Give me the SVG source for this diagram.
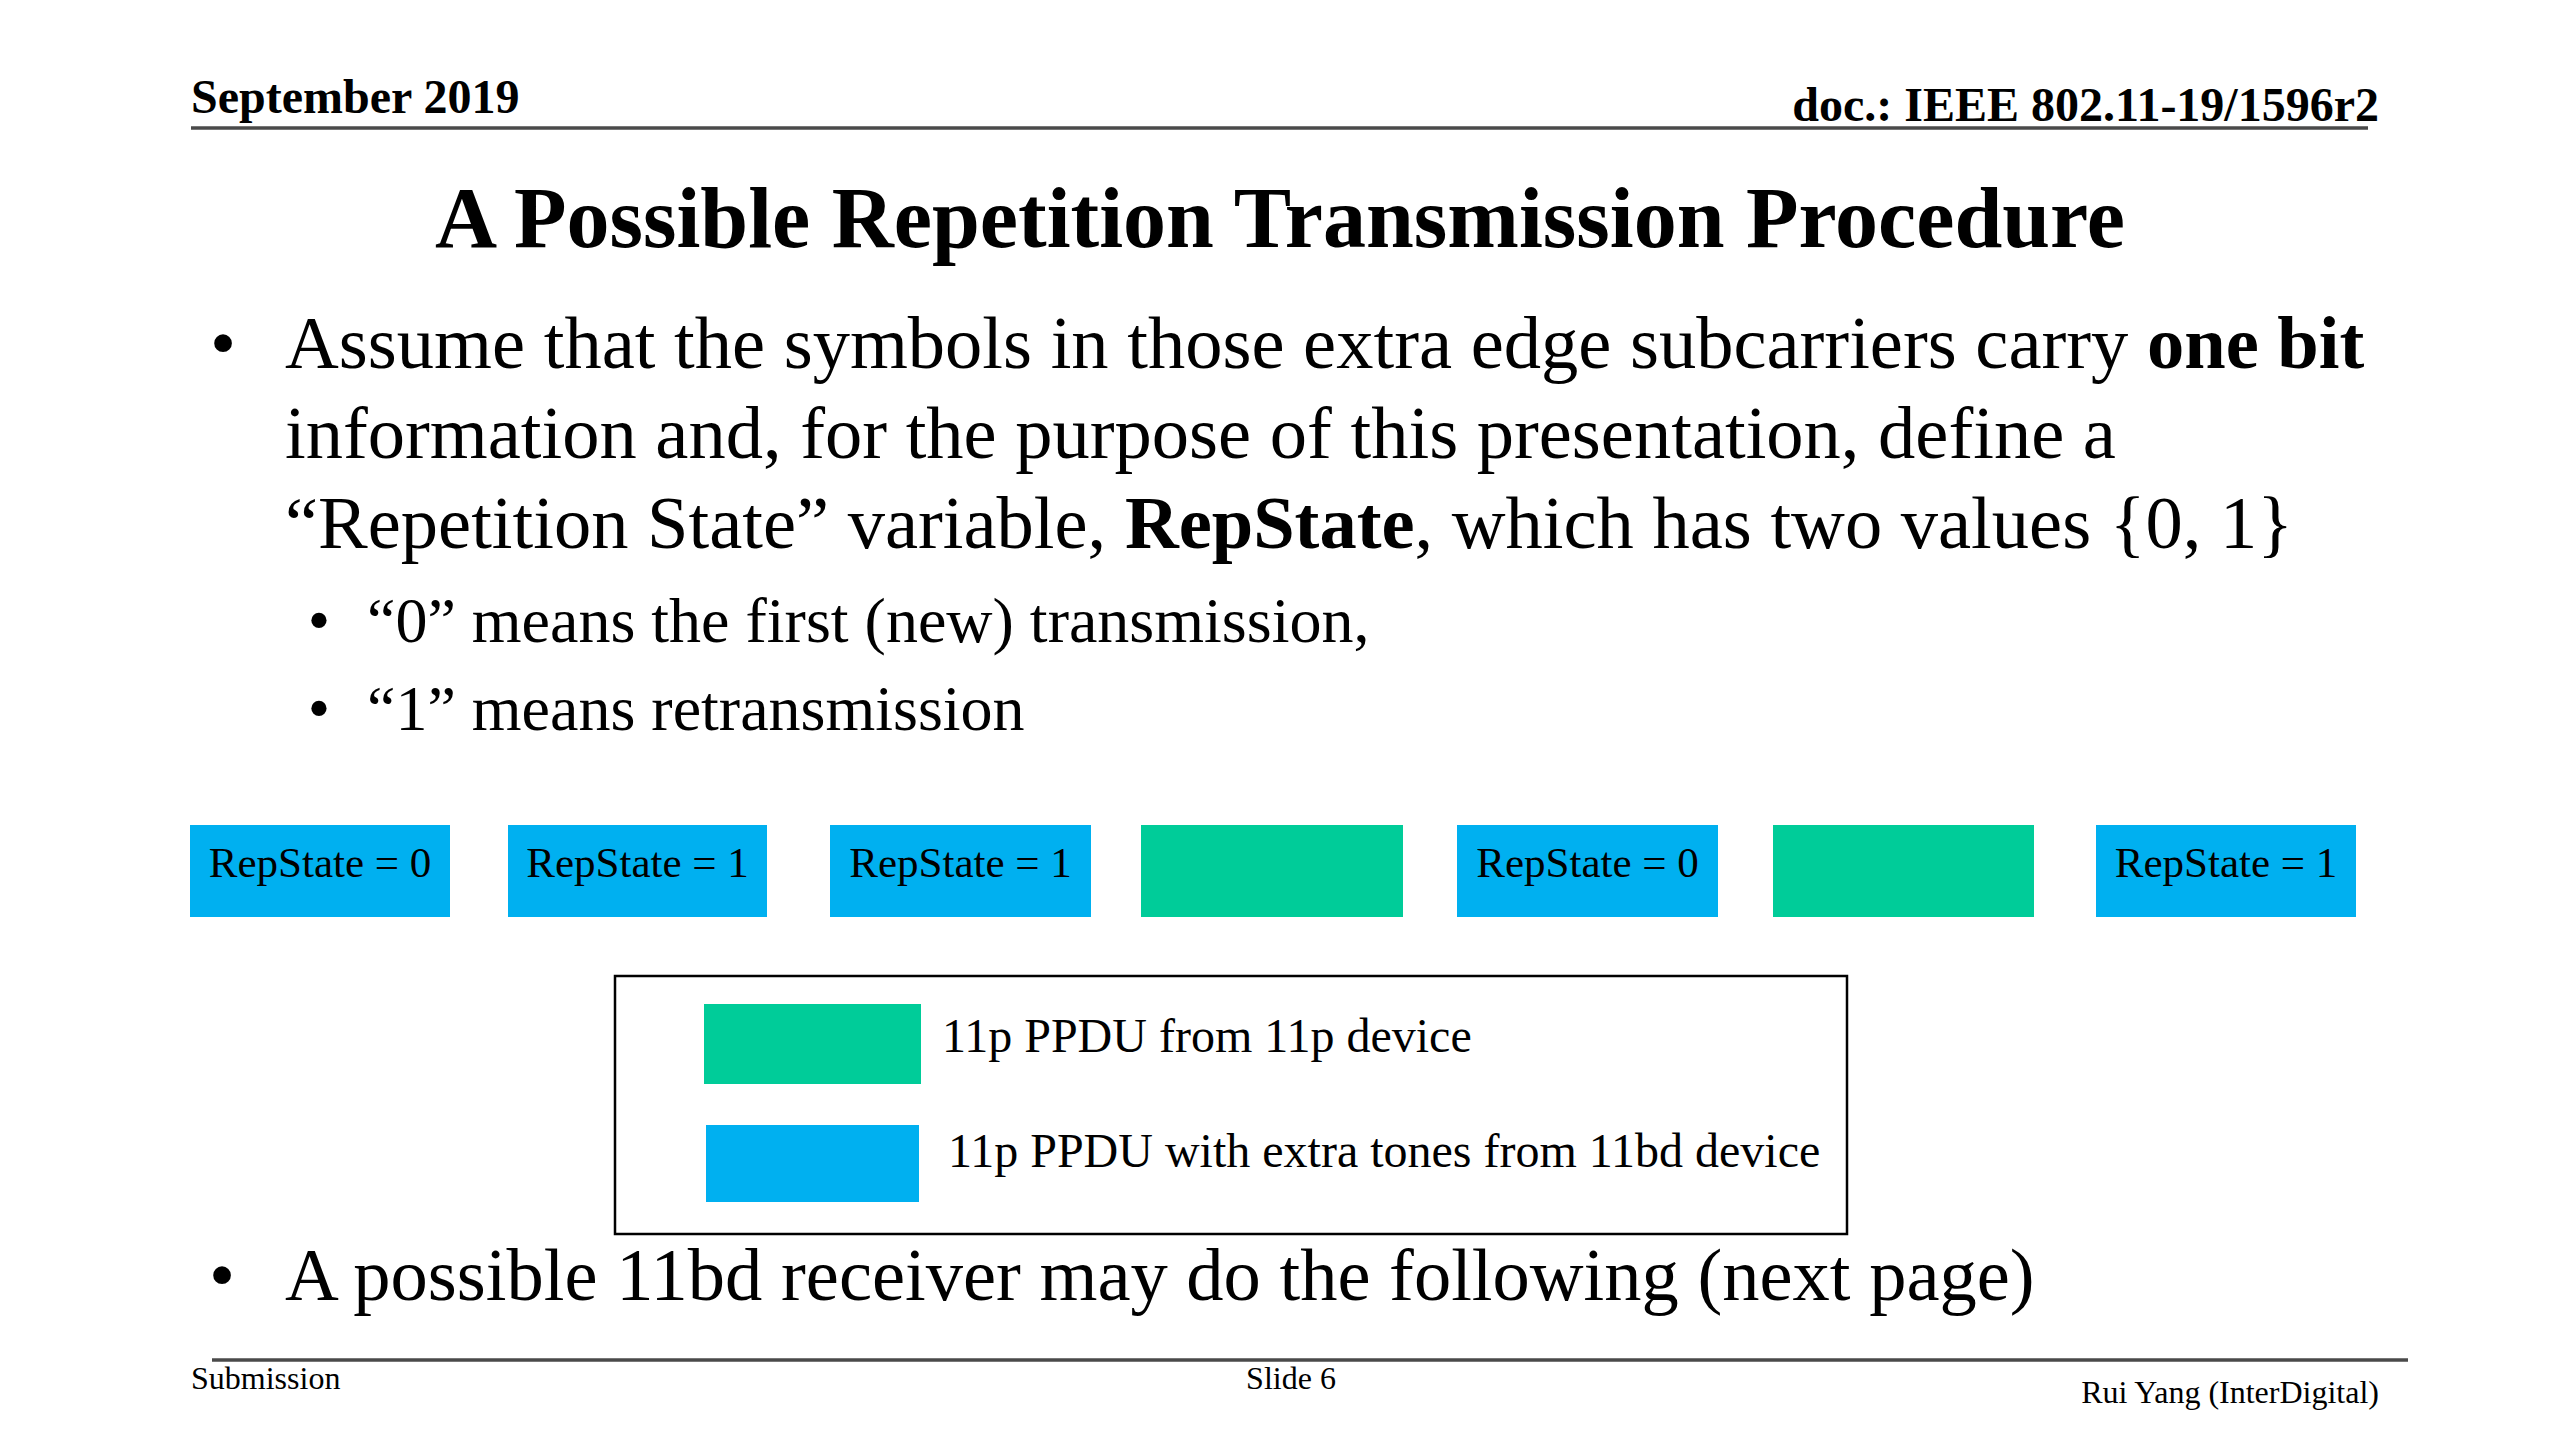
<svg xmlns="http://www.w3.org/2000/svg" width="2560" height="1440" viewBox="0 0 2560 1440">
<style>
text{font-family:"Liberation Serif","Times New Roman",serif;fill:#000}
.hdr{font-size:48px;font-weight:bold}
.title{font-size:86px;font-weight:bold}
.body{font-size:74.5px}
.sub{font-size:64px}
.b{font-weight:bold}
.box{font-size:43px}
.leg{font-size:48px}
.foot{font-size:32px}
.blue{fill:#00B0F0}
.green{fill:#00CC99}
.rule{stroke:#4a4a4a;stroke-width:3.5;fill:none}
</style>
<rect width="2560" height="1440" fill="#fff"/>
<g id="header">
<text class="hdr" x="191" y="113">September 2019</text>
<text class="hdr" x="2379" y="121" text-anchor="end">doc.: IEEE 802.11-19/1596r2</text>
<line class="rule" x1="191" y1="128" x2="2368" y2="128"/>
</g>
<g id="title">
<text class="title" x="1280" y="247" text-anchor="middle">A Possible Repetition Transmission Procedure</text>
</g>
<g id="bullets">
<text class="body" x="223" y="368" text-anchor="middle">•</text>
<text class="body" x="285" y="368">Assume that the symbols in those extra edge subcarriers carry <tspan class="b">one bit</tspan></text>
<text class="body" x="285" y="458">information and, for the purpose of this presentation, define a</text>
<text class="body" x="285" y="548">“Repetition State” variable, <tspan class="b">RepState</tspan>, which has two values {0, 1}</text>
<text class="sub" x="319" y="642" text-anchor="middle">•</text>
<text class="sub" x="367" y="642">“0” means the first (new) transmission,</text>
<text class="sub" x="319" y="730" text-anchor="middle">•</text>
<text class="sub" x="367" y="730">“1” means retransmission</text>
<text class="body" x="222" y="1300" text-anchor="middle">•</text>
<text class="body" x="285" y="1300">A possible 11bd receiver may do the following (next page)</text>
</g>
<g id="box1"><rect class="blue" x="190" y="825" width="260" height="92"/><text class="box" x="320" y="877" text-anchor="middle">RepState = 0</text></g>
<g id="box2"><rect class="blue" x="508" y="825" width="259" height="92"/><text class="box" x="637.5" y="877" text-anchor="middle">RepState = 1</text></g>
<g id="box3"><rect class="blue" x="830" y="825" width="261" height="92"/><text class="box" x="960.5" y="877" text-anchor="middle">RepState = 1</text></g>
<g id="box4"><rect class="green" x="1141" y="825" width="262" height="92"/></g>
<g id="box5"><rect class="blue" x="1457" y="825" width="261" height="92"/><text class="box" x="1587.5" y="877" text-anchor="middle">RepState = 0</text></g>
<g id="box6"><rect class="green" x="1773" y="825" width="261" height="92"/></g>
<g id="box7"><rect class="blue" x="2096" y="825" width="260" height="92"/><text class="box" x="2226" y="877" text-anchor="middle">RepState = 1</text></g>
<g id="legend">
<rect x="615" y="976" width="1232" height="258" fill="#fff" stroke="#000" stroke-width="2.5"/>
<rect class="green" x="704" y="1004" width="217" height="80"/>
<text class="leg" x="942" y="1052">11p PPDU from 11p device</text>
<rect class="blue" x="706" y="1125" width="213" height="77"/>
<text class="leg" x="948" y="1167">11p PPDU with extra tones from 11bd device</text>
</g>
<g id="connectors"></g>
<g id="footer">
<line class="rule" x1="212" y1="1360" x2="2408" y2="1360"/>
<text class="foot" x="191" y="1389">Submission</text>
<text class="foot" x="1291" y="1389" text-anchor="middle">Slide 6</text>
<text class="foot" x="2379" y="1403" text-anchor="end">Rui Yang (InterDigital)</text>
</g>
</svg>
